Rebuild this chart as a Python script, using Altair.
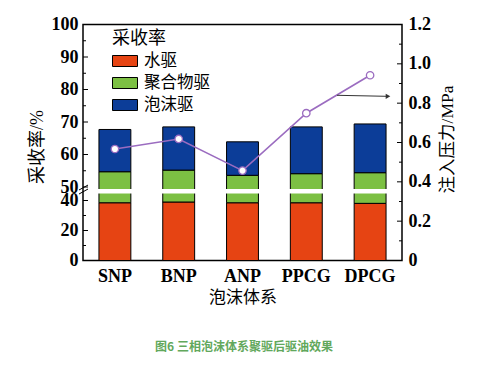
import altair as alt
import pandas as pd

systems = ["SNP", "BNP", "ANP", "PPCG", "DPCG"]
drive_types = ["水驱", "聚合物驱", "泡沫驱"]
water = [38.5, 39.0, 38.5, 38.5, 38.1]
polymer = [16.2, 16.2, 15.1, 15.6, 16.3]
foam = [13.0, 13.3, 10.3, 14.4, 15.0]
pressure = [0.567, 0.618, 0.457, 0.749, 0.942]

left_labels = [0, 20, 40, 50, 60, 70, 80, 90, 100]
left_minor = [10, 30, 55, 65, 75, 85, 95]
right_major = [0, 0.2, 0.4, 0.6, 0.8, 1.0, 1.2]
right_minor = [0.1, 0.3, 0.5, 0.7, 0.9, 1.1]
break_band = [45.2, 48.5]
break_marks = [[47.8, 50.6], [44.8, 48.5]]
arrow_y = [0.84, 0.835]
caption = "图6 三相泡沫体系聚驱后驱油效果"

colors = ["#e64413", "#7cc043", "#0c3d98"]
purple = "#9b6cc0"
SERIF = "Liberation Serif"
CJK = "Noto Sans CJK SC"

W, H = 319, 236

rows = []
for s, w, p, f in zip(systems, water, polymer, foam):
    for i, (t, v) in enumerate(zip(drive_types, [w, p, f])):
        rows.append({"system": s, "type": t, "value": v, "idx": i})
df = pd.DataFrame(rows)
pdf = pd.DataFrame({"system": systems, "pressure": pressure})

xscale = alt.Scale(domain=systems, paddingInner=0.5, paddingOuter=0.25)


def yl_scale():
    return alt.Scale(domain=[0, 40, 50, 100], range=[H, 176, 162.5, 0], nice=False, zero=False)


def yr_scale():
    return alt.Scale(domain=[0, 1.2], range=[H, 0], nice=False, zero=False)


xaxis = alt.Axis(title="泡沫体系", labelFont=SERIF, labelFontWeight="bold", labelFontSize=18,
                 labelColor="black", labelPadding=7, labelAngle=0, ticks=False, tickSize=0,
                 domain=False, grid=False, titleFont=CJK, titleFontSize=17,
                 titleFontWeight="normal", titleColor="black", titleY=37,
                 titleBaseline="middle")

yl_axis = alt.Axis(title="采收率/%", orient="left", values=left_labels, labelFont=SERIF,
                   labelFontWeight="bold", labelFontSize=18, labelColor="black", labelPadding=5,
                   ticks=False, tickSize=0, domain=False, grid=False, labelOverlap=False,
                   labelBound=False, titleFont=SERIF + ", " + CJK, titleFontSize=18,
                   titleFontWeight="normal", titleColor="black", titleAngle=270, titleX=-45.5,
                   titleY=122, titleAlign="center", titleBaseline="middle")

yr_axis = alt.Axis(title="注入压力/MPa", orient="right", values=right_major,
                   labelExpr="datum.value == 0 ? '0' : format(datum.value, '.1f')",
                   labelFont=SERIF, labelFontWeight="bold", labelFontSize=18, labelColor="black",
                   labelPadding=6, ticks=False, tickSize=0, domain=False, grid=False,
                   labelOverlap=False, labelBound=False,
                   titleFont=SERIF + ", " + CJK, titleFontSize=17.5, titleFontWeight="normal",
                   titleColor="black", titleAngle=270, titleX=45.5, titleY=114.5,
                   titleAlign="center", titleBaseline="middle")

legend = alt.Legend(title="采收率", orient="none", legendX=29, legendY=5.5,
                    titleFont=CJK, titleFontSize=18, titleFontWeight="normal", titleColor="black",
                    titlePadding=0, labelFont=CJK, labelFontSize=16.5, labelColor="black",
                    labelOffset=6, symbolType="M-1,-0.44H1V0.44H-1Z", symbolSize=625,
                    symbolStrokeColor="black", symbolStrokeWidth=1, symbolOpacity=1,
                    rowPadding=0)

bars = alt.Chart(df).mark_bar(stroke="black", strokeWidth=1).encode(
    x=alt.X("system:N", sort=systems, scale=xscale, axis=xaxis),
    y=alt.Y("value:Q", stack="zero", scale=yl_scale(), axis=yl_axis),
    color=alt.Color("type:N", scale=alt.Scale(domain=drive_types, range=colors), legend=legend),
    order=alt.Order("idx:Q", sort="ascending"),
)

stripe = alt.Chart(pd.DataFrame({"a": [break_band[0]], "b": [break_band[1]]})).mark_rect(
    color="white").encode(
    x=alt.value(3), x2=alt.value(W - 3),
    y=alt.Y("a:Q", scale=yl_scale(), axis=None), y2="b:Q")

lt_major = alt.Chart(pd.DataFrame({"v": left_labels})).mark_rule(color="black", strokeWidth=1).encode(
    y=alt.Y("v:Q", scale=yl_scale(), axis=None), x=alt.value(0), x2=alt.value(5))
lt_minor = alt.Chart(pd.DataFrame({"v": left_minor})).mark_rule(color="black", strokeWidth=1).encode(
    y=alt.Y("v:Q", scale=yl_scale(), axis=None), x=alt.value(0), x2=alt.value(3))

bk = pd.DataFrame({"a": [m[0] for m in break_marks], "b": [m[1] for m in break_marks]})
breaks = alt.Chart(bk).mark_rule(color="black", strokeWidth=1).encode(
    x=alt.value(-4), x2=alt.value(5),
    y=alt.Y("a:Q", scale=yl_scale(), axis=None), y2="b:Q")

line = alt.Chart(pdf).mark_line(color=purple, strokeWidth=1.6).encode(
    x=alt.X("system:N", sort=systems, scale=xscale),
    y=alt.Y("pressure:Q", scale=yr_scale(), axis=yr_axis))
pts = alt.Chart(pdf).mark_point(shape="circle", filled=True, fill="white", stroke=purple,
                                strokeWidth=1.3, size=55, opacity=1).encode(
    x=alt.X("system:N", sort=systems, scale=xscale),
    y=alt.Y("pressure:Q", scale=yr_scale(), axis=None))

rt_major = alt.Chart(pd.DataFrame({"v": right_major})).mark_rule(color="black", strokeWidth=1).encode(
    y=alt.Y("v:Q", scale=yr_scale(), axis=None), x=alt.value(W - 5), x2=alt.value(W))
rt_minor = alt.Chart(pd.DataFrame({"v": right_minor})).mark_rule(color="black", strokeWidth=1).encode(
    y=alt.Y("v:Q", scale=yr_scale(), axis=None), x=alt.value(W - 3), x2=alt.value(W))

arrow = alt.Chart(pd.DataFrame({"a": [arrow_y[0]], "b": [arrow_y[1]]})).mark_rule(
    color="#333333", strokeWidth=1).encode(
    x=alt.value(254), x2=alt.value(303),
    y=alt.Y("a:Q", scale=yr_scale(), axis=None), y2="b:Q")
head = alt.Chart(pd.DataFrame({"a": [arrow_y[1]]})).mark_point(
    shape="triangle-right", filled=True, color="#333333", size=28, opacity=1).encode(
    x=alt.value(305), y=alt.Y("a:Q", scale=yr_scale(), axis=None))

cap = alt.Chart(pd.DataFrame({"t": [caption]})).mark_text(
    font=CJK, fontSize=12, fontWeight="bold", color="#62a85c", align="center",
    baseline="middle").encode(x=alt.value(161), y=alt.value(322), text="t:N")

chart = alt.layer(bars, stripe, lt_major, lt_minor, breaks,
                  line, pts, rt_major, rt_minor, arrow, head, cap).resolve_scale(
    y="independent").properties(
    width=W, height=H,
    autosize=alt.AutoSizeParams(type="none"),
    padding={"left": 83, "top": 24.5, "right": 90, "bottom": 110.5},
).configure_view(stroke="black", strokeWidth=1.5)

chart.save("out.html", embed_options={"renderer": "svg", "actions": False})
